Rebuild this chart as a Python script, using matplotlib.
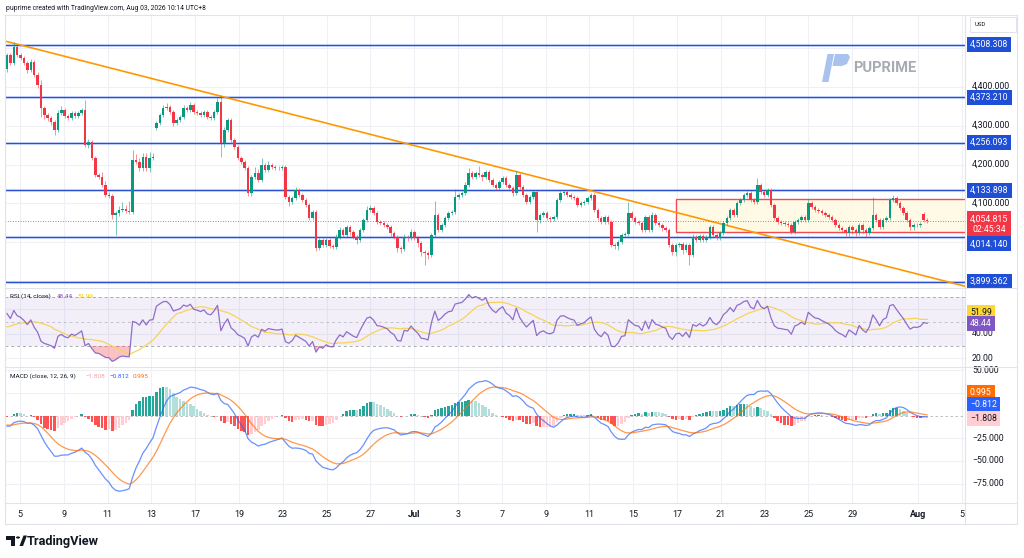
import numpy as np
import pandas as pd
import matplotlib
matplotlib.use("Agg")
import matplotlib.pyplot as plt
from matplotlib.patches import Rectangle, Polygon, Circle
from matplotlib.lines import Line2D

plt.rcParams['font.family'] = ['Roboto', 'DejaVu Sans']

W, H = 1024, 558

# 4H candles, Jun 4 .. Aug 1 (x in trading-day units, 0 = Jun 5)
first_open = 4445
closes = [
    4481, 4461, 4502, 4481, 4474, 4461, 4443, 4463, 4430, 4404,
    4345, 4327, 4319, 4309, 4289, 4332, 4340, 4325, 4319, 4332,
    4325, 4332, 4340, 4250, 4258, 4217, 4173, 4168, 4147, 4122,
    4119, 4070, 4075, 4083, 4086, 4081, 4078, 4212, 4206, 4191,
    4219, 4191, 4217, 4219, 4307, 4327, 4345, 4348, 4335, 4307,
    4314, 4322, 4345, 4340, 4353, 4335, 4332, 4327, 4335, 4322,
    4319, 4335, 4361, 4255, 4289, 4314, 4263, 4245, 4217, 4206,
    4191, 4127, 4168, 4178, 4160, 4199, 4186, 4199, 4194, 4191,
    4190, 4194, 4117, 4104, 4114, 4134, 4122, 4109, 4096, 4063,
    4078, 3986, 4006, 3993, 4006, 3991, 3988, 4014, 4032, 4019,
    4039, 4027, 4014, 4006, 4032, 4057, 4083, 4088, 4075, 4052,
    4050, 4045, 4039, 4024, 4014, 3986, 3983, 4014, 4011, 4027,
    4011, 3998, 3975, 3973, 3967, 4019, 4070, 4032, 4045, 4063,
    4075, 4078, 4117, 4122, 4127, 4147, 4178, 4168, 4178, 4173,
    4168, 4181, 4160, 4147, 4140, 4155, 4165, 4147, 4140, 4127,
    4173, 4142, 4122, 4104, 4117, 4129, 4057, 4070, 4075, 4063,
    4060, 4065, 4109, 4127, 4129, 4122, 4117, 4114, 4096, 4101,
    4104, 4114, 4122, 4083, 4063, 4052, 4065, 4052, 3993, 3991,
    4001, 4019, 4021, 4075, 4063, 4052, 4050, 4032, 4065, 4032,
    4070, 4050, 4045, 4037, 4032, 3993, 3975, 3993, 3996, 3980,
    3993, 3967, 4014, 4006, 4016, 4006, 4014, 4039, 4019, 4011,
    4024, 4050, 4063, 4083, 4070, 4101, 4109, 4122, 4127, 4109,
    4104, 4147, 4129, 4122, 4134, 4096, 4063, 4052, 4050, 4047,
    4045, 4027, 4052, 4057, 4065, 4057, 4101, 4091, 4083, 4081,
    4075, 4070, 4065, 4057, 4045, 4037, 4032, 4024, 4039, 4032,
    4024, 4045, 4032, 4024, 4037, 4070, 4057, 4039, 4057, 4063,
    4109, 4114, 4101, 4088, 4075, 4057, 4039, 4045, 4044, 4047,
    4057, 4054.815,
]
gap_opens = {44: 4294, 270: 4073}
wick_up = [
    5, 5, 13, 8, 5, 5, 5, 8, 5, 8,
    13, 5, 5, 5, 5, 8, 10, 5, 5, 5,
    5, 5, 5, 26, 8, 5, 5, 5, 13, 10,
    8, 5, 5, 10, 18, 10, 26, 25, 15, 10,
    10, 10, 15, 10, 5, 5, 8, 10, 5, 5,
    5, 5, 8, 5, 8, 5, 5, 5, 5, 5,
    5, 5, 10, 18, 8, 5, 5, 5, 5, 5,
    5, 5, 5, 15, 10, 18, 5, 10, 5, 5,
    5, 5, 5, 5, 5, 8, 5, 5, 5, 5,
    5, 5, 5, 5, 5, 5, 5, 8, 8, 5,
    5, 5, 5, 5, 5, 5, 10, 8, 5, 5,
    5, 5, 5, 5, 5, 5, 5, 8, 5, 8,
    5, 5, 5, 5, 5, 5, 35, 5, 5, 5,
    5, 5, 20, 5, 5, 8, 13, 5, 5, 18,
    5, 5, 5, 5, 5, 5, 5, 5, 5, 5,
    10, 5, 5, 5, 5, 5, 5, 5, 5, 5,
    5, 5, 5, 5, 5, 5, 5, 5, 5, 5,
    5, 5, 5, 5, 5, 5, 5, 5, 5, 5,
    5, 5, 5, 28, 5, 5, 5, 5, 5, 5,
    8, 5, 5, 5, 5, 5, 5, 5, 5, 5,
    5, 5, 8, 5, 5, 5, 5, 5, 5, 5,
    5, 5, 5, 5, 5, 5, 5, 5, 5, 5,
    5, 18, 5, 5, 5, 5, 5, 5, 5, 5,
    5, 5, 5, 5, 5, 5, 10, 5, 5, 5,
    5, 5, 5, 5, 5, 5, 5, 5, 5, 5,
    5, 5, 5, 5, 5, 46, 5, 5, 5, 5,
    5, 8, 5, 5, 5, 5, 5, 5, 5, 5,
    5, 5,
]
wick_dn = [
    8, 5, 5, 5, 5, 5, 8, 5, 5, 8,
    23, 10, 8, 8, 12, 5, 5, 5, 5, 5,
    5, 5, 5, 5, 8, 5, 5, 5, 5, 5,
    5, 10, 51, 8, 5, 5, 5, 5, 5, 8,
    8, 8, 10, 5, 5, 5, 5, 5, 5, 8,
    5, 5, 5, 5, 5, 5, 5, 5, 5, 5,
    5, 5, 5, 36, 10, 5, 5, 5, 5, 5,
    5, 8, 8, 5, 5, 5, 5, 5, 5, 5,
    5, 5, 5, 10, 5, 5, 5, 5, 5, 5,
    5, 8, 5, 5, 5, 5, 5, 5, 5, 5,
    5, 8, 5, 10, 5, 5, 5, 5, 5, 5,
    5, 5, 5, 10, 5, 10, 10, 5, 8, 5,
    5, 10, 10, 30, 10, 5, 5, 5, 5, 5,
    5, 5, 5, 5, 5, 5, 5, 5, 5, 5,
    10, 5, 5, 5, 5, 5, 5, 5, 5, 8,
    5, 5, 5, 5, 5, 5, 30, 8, 5, 5,
    8, 5, 5, 5, 5, 5, 5, 5, 5, 5,
    5, 5, 5, 5, 5, 5, 5, 5, 5, 8,
    10, 5, 5, 5, 5, 5, 5, 5, 5, 5,
    5, 5, 5, 8, 5, 5, 8, 10, 5, 10,
    5, 25, 5, 5, 5, 5, 5, 5, 5, 5,
    5, 5, 5, 5, 5, 5, 5, 5, 5, 5,
    5, 5, 5, 5, 5, 5, 5, 5, 5, 5,
    5, 5, 5, 5, 5, 5, 5, 5, 5, 5,
    5, 5, 5, 5, 5, 5, 8, 8, 8, 10,
    8, 5, 8, 10, 5, 5, 5, 5, 5, 5,
    5, 5, 5, 5, 5, 5, 8, 8, 5, 5,
    5, 5,
]
first_bar_day, last_bar_day = -0.594, 41.42

levels = [4508.308, 4373.210, 4256.093, 4133.898, 4014.140, 3899.362]
level_labels = ["4,508.308", "4,373.210", "4,256.093", "4,133.898", "4,014.140", "3,899.362"]
# where the scale puts each level's tag (4,014.140 is pushed down by the last-price tag)
level_tag_at = [4508.308, 4373.210, 4256.093, 4133.898, 3996.0, 3899.362]
price_ticks = [4400, 4300, 4200, 4100]
price_tick_labels = ["4,400.000", "4,300.000", "4,200.000", "4,100.000"]
last_price = 4054.815
countdown = "02:45:34"

trend_days = [-0.64, 43.24]
trend_prices = [4516.5, 3886.0]
range_box = dict(left=29.95, right=44.0, top=4111.6, bottom=4025.8)

tick_days = [0, 2, 4, 6, 8, 10, 12, 14, 16, 18, 20, 22, 24, 26, 28, 30, 32, 34, 36, 38, 41, 43]
tick_labels = ['5', '9', '11', '13', '17', '19', '23', '25', '27', 'Jul', '3', '7',
               '9', '11', '15', '17', '21', '23', '25', '29', 'Aug', '5']

# indicator state at the left edge of the chart
rsi_seed_gain, rsi_seed_loss = 9.0, 9.0
rsi_prior = [44, 44, 45, 45, 46, 45, 44, 45, 46, 45, 44, 45, 45]
ema12_seed, ema26_seed, signal_seed = 4466.0, 4480.0, -10.0
rsi_last, rsi_ma_last = "48.44", "51.99"
macd_last, signal_last, hist_last = "\u22120.812", "0.995", "\u22121.808"

# ---- derived series
n = len(closes)
c = np.array(closes, float)
o = np.r_[first_open, c[:-1]]
for i, v in gap_opens.items():
    o[i] = v
hi = np.maximum(o, c) + np.array(wick_up)
lo = np.minimum(o, c) - np.array(wick_dn)
x = np.linspace(first_bar_day, last_bar_day, n)
up = c >= o

chg = c - np.r_[first_open, c[:-1]]
g, l = rsi_seed_gain, rsi_seed_loss
rsi = np.empty(n)
for i in range(n):
    g = (g * 13 + max(chg[i], 0)) / 14
    l = (l * 13 + max(-chg[i], 0)) / 14
    rsi[i] = 100 - 100 / (1 + g / l)
rsi_ma = pd.Series(np.r_[rsi_prior, rsi]).rolling(14).mean().to_numpy()[len(rsi_prior):]

e12, e26, sig = ema12_seed, ema26_seed, signal_seed
macd = np.empty(n)
signal = np.empty(n)
for i in range(n):
    e12 += (c[i] - e12) * 2 / 13
    e26 += (c[i] - e26) * 2 / 27
    macd[i] = e12 - e26
    sig += (macd[i] - sig) * 2 / 10
    signal[i] = sig
hist = macd - signal
prev = np.r_[hist[0], hist[:-1]]
hist_col = np.where(hist >= 0, np.where(hist > prev, '#26a69a', '#b2dfdb'),
                    np.where(hist > prev, '#ffcdd2', '#ff5252'))

# ---- figure
fig = plt.figure(figsize=(W / 100, H / 100), dpi=100)
fig.patch.set_facecolor('white')


def fx(px):
    return px / W


def fy(py):
    return 1 - py / H


ax_p = fig.add_axes([fx(5), fy(287), 960 / W, 272 / H])
ax_r = fig.add_axes([fx(5), fy(367), 960 / W, 79 / H], sharex=ax_p)
ax_m = fig.add_axes([fx(5), fy(503), 960 / W, 135 / H], sharex=ax_p)

grid_c = '#eef0f5'
for ax in (ax_p, ax_r, ax_m):
    for s in ax.spines.values():
        s.set_visible(False)
    ax.tick_params(length=0, labelleft=False, labelright=False, labelbottom=False)
    for d in tick_days:
        ax.axvline(d, color=grid_c, lw=0.8, zorder=0)
ax_p.set_xlim(-0.685, 43.15)

# price pane
ax_p.set_ylim(3885.3, 4584.1)
ax_p.set_yticks([])
for v in range(3900, 4600, 100):
    ax_p.axhline(v, color=grid_c, lw=0.8, zorder=0)
ax_p.add_patch(Rectangle((range_box['left'], range_box['bottom']),
                         range_box['right'] - range_box['left'],
                         range_box['top'] - range_box['bottom'],
                         fc='#fffae3', ec='#f23645', lw=1.0, alpha=0.9, zorder=1))
for v in levels:
    ax_p.axhline(v, color='#2962ff', lw=2.2, alpha=0.2, zorder=2)
    ax_p.axhline(v, color='#2a4fd0', lw=0.9, zorder=2)
ax_p.plot(trend_days, trend_prices, color='#ff9800', lw=1.2, zorder=2)
ax_p.axhline(last_price, color='#f23645', lw=0.6, ls=(0, (1, 2)), zorder=2)

cols = np.where(up, '#089981', '#f23645')
ax_p.vlines(x, lo, hi, colors=cols, lw=0.7, alpha=0.55, zorder=3)
body = np.maximum(np.abs(c - o), 1.2)
ax_p.bar(x, body, bottom=np.minimum(o, c), width=0.115, color=cols, lw=0, zorder=4)

# RSI pane
ax_r.set_ylim(12.75, 77.6)
ax_r.set_yticks([])
for v in (20, 40, 60):
    ax_r.axhline(v, color=grid_c, lw=0.8, zorder=0)
ax_r.axhspan(30, 70, color='#7e57c2', alpha=0.09, lw=0, zorder=1)
for v, a in ((70, 0.8), (50, 0.5), (30, 0.8)):
    ax_r.axhline(v, color='#9598a1', lw=0.7, ls=(0, (3, 3)), alpha=a, zorder=2)
ax_r.fill_between(x, rsi, 30, where=rsi < 30, interpolate=True, color='#f23645', alpha=0.3, lw=0, zorder=2)
ax_r.fill_between(x, rsi, 70, where=rsi > 70, interpolate=True, color='#089981', alpha=0.3, lw=0, zorder=2)
ax_r.plot(x, rsi_ma, color='#f7d35a', lw=0.9, zorder=3)
ax_r.plot(x, rsi, color='#7e57c2', lw=0.9, alpha=0.85, zorder=4)

# MACD pane
ax_m.set_ylim(-96.3, 52.4)
ax_m.set_yticks([])
for v in (50, 25, -25, -50, -75):
    ax_m.axhline(v, color=grid_c, lw=0.8, zorder=0)
ax_m.axhline(0, color='#b2b5be', lw=0.6, ls=(0, (3, 3)), zorder=1)
ax_m.bar(x, hist, width=0.115, color=hist_col, lw=0, zorder=2)
ax_m.plot(x, macd, color='#2962ff', lw=0.9, alpha=0.7, zorder=3)
ax_m.plot(x, signal, color='#ff6d00', lw=0.9, alpha=0.7, zorder=3)

ax_m.set_xticks(tick_days)
ax_m.set_xticklabels(tick_labels)
ax_m.tick_params(axis='x', labelbottom=True, length=0, pad=5, labelsize=6.5, labelcolor='#131722')
for t in ax_m.get_xticklabels():
    if t.get_text() in ('Jul', 'Aug'):
        t.set_fontweight('bold')


# right scale labels
def scale_label(ax, y, text, fc=None, color='#131722', xpos=1.0052):
    kw = dict(transform=ax.get_yaxis_transform(), fontsize=6.3, va='center', ha='left',
              color=color, clip_on=False, zorder=10)
    if fc is not None:
        kw['bbox'] = dict(boxstyle='square,pad=0.35', fc=fc, ec='none')
    ax.text(xpos, y, text, **kw)


for v, t in zip(price_ticks, price_tick_labels):
    scale_label(ax_p, v, t, xpos=1.0073)
ax_p.text(1.0052, last_price - 8, "4,054.815\n" + countdown, transform=ax_p.get_yaxis_transform(),
          fontsize=6.3, va='center', ha='left', color='white', linespacing=1.25,
          multialignment='center', clip_on=False, zorder=10,
          bbox=dict(boxstyle='square,pad=0.35', fc='#f23645', ec='none'))
for v, t in zip(level_tag_at, level_labels):
    scale_label(ax_p, v, t, fc='#1e4fd6', color='white')

scale_label(ax_r, 40, "40.00", xpos=1.0073)
scale_label(ax_r, 20, "20.00", xpos=1.0073)
scale_label(ax_r, 57.1, rsi_ma_last, fc='#fdd835')
scale_label(ax_r, 48.1, rsi_last, fc='#7e57c2', color='white')

scale_label(ax_m, 50, "50.000", xpos=1.0073)
for v in (-25, -50, -75):
    scale_label(ax_m, v, "\u2212%d.000" % abs(v), xpos=1.0073)
scale_label(ax_m, 25.2, signal_last, fc='#ff6d00', color='white')
scale_label(ax_m, 11.7, macd_last, fc='#2962ff', color='white')
scale_label(ax_m, -3.0, hist_last, fc='#ffcdd2')

# pane legends
fig.text(fx(10), fy(296), "RSI (14, close)", fontsize=4.6, color='#131722', va='center')
fig.text(fx(57), fy(296), rsi_last, fontsize=4.6, color='#7e57c2', va='center')
fig.text(fx(77), fy(296), rsi_ma_last, fontsize=4.6, color='#f5c400', va='center')
fig.text(fx(10), fy(376), "MACD (close, 12, 26, 9)", fontsize=4.6, color='#131722', va='center')
fig.text(fx(85), fy(376), hist_last, fontsize=4.6, color='#f7a1aa', va='center')
fig.text(fx(109), fy(376), macd_last, fontsize=4.6, color='#2962ff', va='center')
fig.text(fx(133), fy(376), signal_last, fontsize=4.6, color='#ff6d00', va='center')

# frame lines
frame = '#e0e3eb'
for (x0, y0, x1, y1) in [(5, 15, 1017, 15), (5, 524, 1017, 524), (5, 15, 5, 524),
                         (1017, 15, 1017, 524), (965, 15, 965, 524),
                         (5, 288, 1017, 288), (5, 367, 1017, 367), (5, 503, 1017, 503)]:
    fig.add_artist(Line2D([fx(x0), fx(x1)], [fy(y0), fy(y1)], color=frame, lw=0.8))

# header / currency / watermarks
fig.text(fx(6), fy(8), "puprime created with TradingView.com, Aug 03, 2026 10:14 UTC+8",
         fontsize=4.9, color='#131722', va='center')
fig.add_artist(Rectangle((fx(970), fy(32)), 46 / W, 15 / H, fc='white', ec=frame, lw=0.7))
fig.text(fx(975), fy(24.5), "USD", fontsize=4.3, color='#131722', va='center')


def px_poly(pts, **kw):
    fig.add_artist(Polygon([(fx(a), fy(b)) for a, b in pts], closed=True, **kw))


px_poly([(822, 82), (828.5, 82), (834, 54), (827.5, 54)], fc='#aac3ee', ec='none')
px_poly([(835, 54), (848, 54), (850, 57), (847, 64), (842, 66), (832.5, 66)], fc='#aac3ee', ec='none')
fig.text(fx(853), fy(68), "PUPRIME", fontsize=10.5, fontweight='bold', color='#a7abb2', va='center')

# TradingView logo
px_poly([(6, 535.5), (15, 535.5), (15, 546), (11, 546), (11, 539.5), (6, 539.5)], fc='#131722', ec='none')
fig.add_artist(Circle((fx(18), fy(537.5)), 2.0 / W, transform=fig.transFigure, fc='#131722', ec='none'))
px_poly([(19.5, 546), (23, 546), (27, 535.5), (23.5, 535.5)], fc='#131722', ec='none')
fig.text(fx(27), fy(541), "TradingView", fontsize=9.2, fontweight='bold', color='#131722', va='center')

fig.savefig("out.png", dpi=100)
